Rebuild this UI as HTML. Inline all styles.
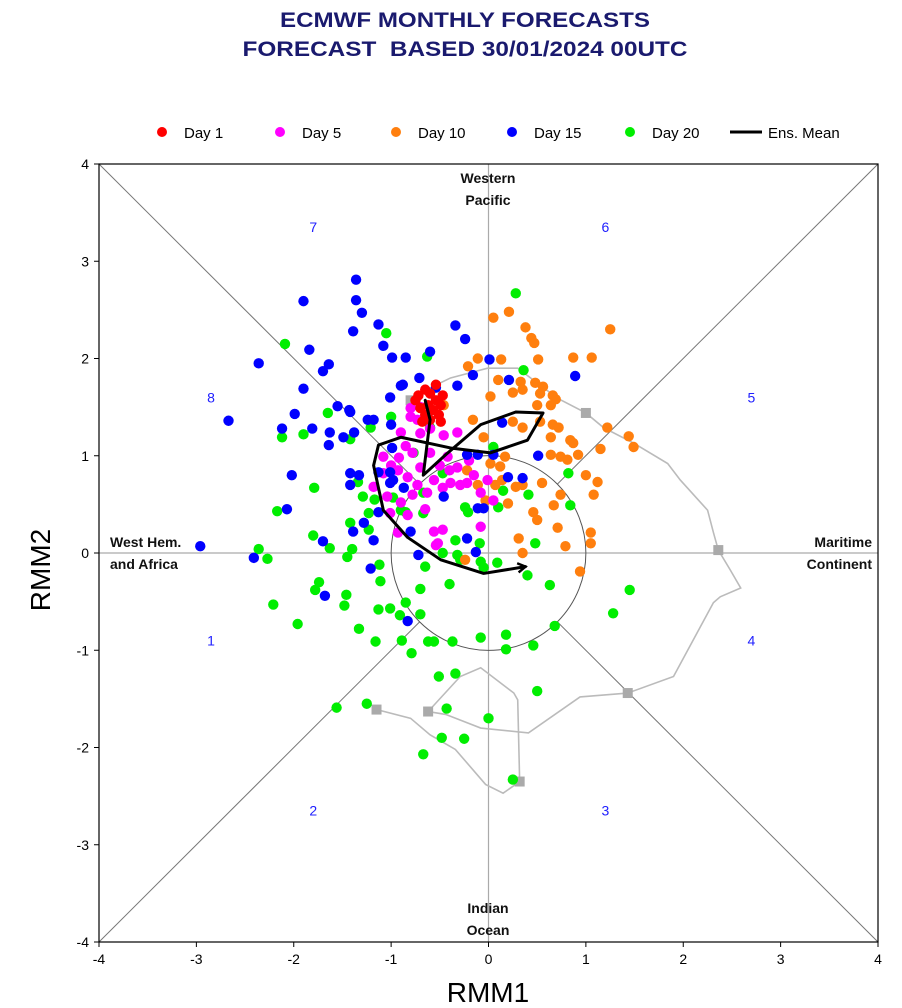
<!DOCTYPE html>
<html><head><meta charset="utf-8">
<style>
html,body{margin:0;padding:0;background:#fff;}
svg{display:block;font-family:"Liberation Sans",sans-serif;}
</style></head>
<body>
<svg id="chart" width="902" height="1008" viewBox="0 0 902 1008" xmlns="http://www.w3.org/2000/svg">
<text x="465" y="27" text-anchor="middle" font-size="21" font-weight="bold" fill="#1a1a6e" textLength="370" lengthAdjust="spacingAndGlyphs">ECMWF MONTHLY FORECASTS</text>
<text x="465" y="56" text-anchor="middle" font-size="21" font-weight="bold" fill="#1a1a6e" xml:space="preserve" textLength="445" lengthAdjust="spacingAndGlyphs">FORECAST  BASED 30/01/2024 00UTC</text>
<g id="legend"></g>
<g id="grid"></g>
<g id="obs"></g>
<g id="dots"></g>
<g id="mean"></g>
<g id="labels"></g>
<g id="axes"></g>
<text transform="translate(50,570) rotate(-90)" text-anchor="middle" font-size="28" fill="#000">RMM2</text>
<text x="488" y="1002" text-anchor="middle" font-size="28" fill="#000">RMM1</text>
</svg>
<script>
const ticks = [-4,-3,-2,-1,0,1,2,3,4];
const day1X = [-0.72,-0.65,-0.60,-0.54,-0.49,-0.62,-0.70,-0.57,-0.51,-0.65,-0.75,-0.47,-0.54,-0.60,-0.68,-0.49];
const day1Y = [1.62,1.68,1.64,1.57,1.52,1.52,1.49,1.47,1.42,1.42,1.57,1.62,1.73,1.37,1.35,1.35];
const day5X = [-0.80,-0.73,-0.90,-0.70,-0.60,-0.46,-0.32,-1.08,-0.92,-0.78,-0.60,-0.42,-0.32,-1.08,-0.93,-0.83,-0.70,-0.73,-0.56,-0.39,-0.29,-1.18,-1.04,-0.90,-0.78,-0.63,-0.47,-0.22,-0.08,-1.01,-0.83,-0.93,-0.56,-0.47,-0.52,-0.01,0.05,-0.08,-0.80,-0.70,-0.54,-1.00,-0.85,-0.50,-0.40,-0.15,-0.65,-0.20];
const day5Y = [1.49,1.37,1.24,1.23,1.28,1.21,1.24,0.99,0.98,1.03,1.03,0.99,0.88,0.82,0.85,0.78,0.88,0.70,0.75,0.72,0.70,0.68,0.58,0.52,0.60,0.62,0.67,0.72,0.62,0.41,0.39,0.21,0.22,0.24,0.10,0.75,0.54,0.27,1.40,1.50,0.08,0.90,1.10,0.90,0.85,0.80,0.45,0.95];
const day10X = [0.21,0.05,0.38,0.44,0.47,1.25,-0.11,0.13,0.51,0.87,1.06,-0.21,0.10,0.33,0.48,0.56,0.02,0.25,0.35,0.53,0.66,0.69,0.64,0.50,-0.46,-0.16,0.25,0.35,0.53,0.66,0.72,0.64,0.84,0.87,1.22,1.44,1.49,1.15,0.64,0.74,0.81,0.92,-0.05,0.17,0.02,0.12,-0.22,0.14,0.28,0.35,0.07,0.55,1.00,1.12,1.08,0.74,0.67,0.46,0.50,0.71,1.05,0.31,0.79,1.05,0.94,0.20,-0.11,-0.03,-0.24,0.35];
const day10Y = [2.48,2.42,2.32,2.21,2.16,2.30,2.00,1.99,1.99,2.01,2.01,1.92,1.78,1.76,1.75,1.71,1.61,1.65,1.68,1.64,1.62,1.58,1.52,1.52,1.52,1.37,1.35,1.29,1.35,1.32,1.29,1.19,1.16,1.13,1.29,1.20,1.09,1.07,1.01,0.99,0.96,1.01,1.19,0.99,0.92,0.89,0.85,0.75,0.68,0.70,0.70,0.72,0.80,0.73,0.60,0.60,0.49,0.42,0.34,0.26,0.21,0.15,0.07,0.10,-0.19,0.51,0.70,0.54,-0.07,0.00];
const day15X = [-1.36,-1.36,-1.30,-1.90,-1.13,-1.39,-1.08,-1.84,-0.99,-0.85,-2.36,-1.64,-1.70,-1.90,-0.71,-1.01,-0.90,-1.55,-1.43,-1.99,-2.67,-2.12,-1.81,-1.63,-1.49,-1.38,-1.24,-1.18,-1.64,-1.00,-0.34,-0.24,-0.60,0.01,-0.16,0.21,0.89,-0.32,-0.54,-0.88,-1.42,-0.99,0.14,-0.22,-0.11,0.05,0.51,-1.42,-1.42,-0.98,-0.87,-0.46,-0.11,-0.05,-1.13,-1.39,-1.18,-0.80,-0.22,-0.13,-1.21,-0.72,0.35,0.20,-2.02,-1.33,-1.13,-1.01,-1.01,-2.07,-1.28,-1.70,-2.96,-2.41,-1.68,-0.83];
const day15Y = [2.81,2.60,2.47,2.59,2.35,2.28,2.13,2.09,2.01,2.01,1.95,1.94,1.87,1.69,1.80,1.60,1.72,1.51,1.47,1.43,1.36,1.28,1.28,1.24,1.19,1.24,1.37,1.37,1.11,1.32,2.34,2.20,2.07,1.99,1.83,1.78,1.82,1.72,1.70,1.73,1.45,1.08,1.34,1.01,1.01,1.01,1.00,0.82,0.70,0.75,0.67,0.58,0.46,0.46,0.42,0.22,0.13,0.22,0.15,0.01,-0.16,-0.02,0.77,0.78,0.80,0.80,0.83,0.83,0.72,0.45,0.31,0.12,0.07,-0.05,-0.44,-0.70];
const day20X = [0.28,-1.05,-2.09,-0.63,-1.65,-1.00,-1.21,-2.12,-1.90,-1.42,-0.77,0.36,-1.79,-1.34,-1.29,-1.17,-0.98,-2.17,-1.23,-0.90,-0.67,-0.67,-1.42,-1.23,-1.80,-1.63,-2.36,-2.27,-1.40,-1.45,-1.12,-1.11,-0.65,-1.74,-1.78,-1.46,-1.48,-2.21,-1.13,-1.01,-0.91,-0.85,-0.70,-0.70,-1.96,-1.33,-1.16,-0.89,-0.79,-0.62,-0.60,0.05,-0.47,0.15,0.41,0.82,-0.24,-0.21,0.10,0.84,-0.85,-0.34,-0.09,0.48,-0.47,-0.32,-0.29,-0.08,0.09,-0.05,0.40,-0.40,0.63,1.45,1.28,0.68,-0.56,-0.37,-0.08,0.18,0.18,0.46,-0.51,-0.34,0.50,-1.25,-0.43,0.00,-0.48,-0.25,-0.67,0.25,-1.56];
const day20Y = [2.67,2.26,2.15,2.02,1.44,1.40,1.29,1.19,1.22,1.17,1.03,1.88,0.67,0.73,0.58,0.55,0.57,0.43,0.41,0.44,0.62,0.41,0.31,0.24,0.18,0.05,0.04,-0.06,0.04,-0.04,-0.12,-0.29,-0.14,-0.30,-0.38,-0.43,-0.54,-0.53,-0.58,-0.57,-0.64,-0.51,-0.63,-0.37,-0.73,-0.78,-0.91,-0.90,-1.03,-0.91,1.29,1.09,0.82,0.64,0.60,0.82,0.47,0.42,0.47,0.49,0.42,0.13,0.10,0.10,0.00,-0.02,-0.07,-0.09,-0.10,-0.15,-0.23,-0.32,-0.33,-0.38,-0.62,-0.75,-0.91,-0.91,-0.87,-0.84,-0.99,-0.95,-1.27,-1.24,-1.42,-1.55,-1.60,-1.70,-1.90,-1.91,-2.07,-2.33,-1.59];
const meanX = [-0.65,-0.60,-0.67,-0.44,-0.08,0.28,0.56,0.40,0.02,-0.39,-0.90,-1.13,-1.18,-1.08,-0.83,-0.49,-0.05,0.38];
const meanY = [1.57,1.37,0.80,1.01,1.32,1.45,1.44,1.16,1.03,1.08,1.19,1.11,0.90,0.44,0.16,-0.07,-0.21,-0.14];
const obsX = [-1.15,-0.80,-0.60,-0.34,-0.03,0.15,0.32,0.30,0.26,-0.08,-0.29,-0.62,-0.44,-0.08,0.41,0.94,1.43,1.90,2.31,2.38,2.59,2.48,2.36,2.31,2.25,1.97,1.84,1.49,1.18,1.00,0.71,0.30,-0.01,-0.39,-0.70,-0.80];
const obsY = [-1.61,-1.70,-1.87,-2.02,-2.38,-2.47,-2.35,-1.51,-1.44,-1.18,-1.27,-1.63,-1.66,-1.80,-1.85,-1.48,-1.44,-1.27,-0.51,-0.45,-0.36,-0.17,0.03,0.21,0.44,0.75,0.92,1.13,1.29,1.44,1.59,1.90,1.90,1.80,1.65,1.57];
const obsSquares = [0,6,11,16,22,29,35];

const NS = "http://www.w3.org/2000/svg";
const X0 = 99, X1 = 878, Y0 = 942, Y1 = 164;
function sx(v){ return X0 + (v + 4) * (X1 - X0) / 8; }
function sy(v){ return Y0 - (v + 4) * (Y0 - Y1) / 8; }
function mk(tag, attrs, parent){
  const e = document.createElementNS(NS, tag);
  for (const k in attrs) e.setAttribute(k, attrs[k]);
  parent.appendChild(e);
  return e;
}
const grid = document.getElementById('grid');
const cx = sx(0), cy = sy(0), r = sx(1) - sx(0);
let l = mk('line', {x1:sx(0), y1:Y1, x2:sx(0), y2:Y0, stroke:'#aaa', 'stroke-width':1.2}, grid);


l = mk('line', {x1:X0, y1:sy(0), x2:X1, y2:sy(0), stroke:'#aaa', 'stroke-width':1.2}, grid);


const d = r / Math.SQRT2;
[[X0,Y1,cx-d,cy-d],[X1,Y1,cx+d,cy-d],[X0,Y0,cx-d,cy+d],[X1,Y0,cx+d,cy+d]].forEach(function(p){
  const e = mk('line', {x1:p[0], y1:p[1], x2:p[2], y2:p[3], stroke:'#777', 'stroke-width':1}, grid);
  
  
});
const circ = mk('circle', {cx:cx, cy:cy, r:r, fill:'none', stroke:'#555', 'stroke-width':1}, grid);



const obs = document.getElementById('obs');
let pts = obsX.map(function(v,i){ return sx(v)+','+sy(obsY[i]); }).join(' ');
const op = mk('polyline', {points:pts, fill:'none', stroke:'#bbb', 'stroke-width':1.6}, obs);


obsSquares.forEach(function(i){
  const s = mk('rect', {x:sx(obsX[i])-5, y:sy(obsY[i])-5, width:10, height:10, fill:'#aaa'}, obs);
  
  
});

const dots = document.getElementById('dots');
const series = [
  ['day-20', day20X, day20Y, '#00ee00'],
  ['day-10', day10X, day10Y, '#ff7f0e'],
  ['day-5', day5X, day5Y, '#ff00ff'],
  ['day-15', day15X, day15Y, '#0000ff'],
  ['day-1', day1X, day1Y, '#ff0000']
];
series.forEach(function(s){
  const g = mk('g', {}, dots);
  
  
  s[1].forEach(function(v,i){
    const c = mk('circle', {cx:sx(v), cy:sy(s[2][i]), r:5.2, fill:s[3]}, g);
    
    
  });
});

const mean = document.getElementById('mean');
pts = meanX.map(function(v,i){ return sx(v)+','+sy(meanY[i]); }).join(' ');
const mp = mk('polyline', {points:pts, fill:'none', stroke:'#000', 'stroke-width':3, 'stroke-linejoin':'round', 'stroke-linecap':'round'}, mean);


{
  const n = meanX.length;
  const ex = sx(meanX[n-1]), ey = sy(meanY[n-1]);
  const px = sx(meanX[n-2]), py = sy(meanY[n-2]);
  const ang = Math.atan2(ey-py, ex-px);
  const a1 = ang + 2.6, a2 = ang - 2.6;
  const ah = mk('polyline', {points:(ex+9*Math.cos(a1))+','+(ey+9*Math.sin(a1))+' '+ex+','+ey+' '+(ex+9*Math.cos(a2))+','+(ey+9*Math.sin(a2)), fill:'none', stroke:'#000', 'stroke-width':2.5}, mean);
  
  
}

const axes = document.getElementById('axes');
const fr = mk('rect', {x:X0, y:Y1, width:X1-X0, height:Y0-Y1, fill:'none', stroke:'#000', 'stroke-width':1.2}, axes);


ticks.forEach(function(t){
  let e = mk('line', {x1:X0-5, y1:sy(t), x2:X0, y2:sy(t), stroke:'#000'}, axes);
  
  
  e = mk('line', {x1:sx(t), y1:Y0, x2:sx(t), y2:Y0+5, stroke:'#000'}, axes);
  
  
  e = mk('text', {x:X0-10, y:sy(t)+5, 'text-anchor':'end', 'font-size':14, fill:'#000'}, axes);
  e.textContent = String(t);
  
  
  e = mk('text', {x:sx(t), y:Y0+22, 'text-anchor':'middle', 'font-size':14, fill:'#000'}, axes);
  e.textContent = String(t);
  
  
});

const labels = document.getElementById('labels');
const phaseNum = ['1','2','3','4','5','6','7','8'];
const phaseXY = [[-2.85,-0.9],[-1.8,-2.65],[1.2,-2.65],[2.7,-0.9],[2.7,1.6],[1.2,3.35],[-1.8,3.35],[-2.85,1.6]];
phaseNum.forEach(function(p,i){
  const e = mk('text', {x:sx(phaseXY[i][0]), y:sy(phaseXY[i][1])+5, 'text-anchor':'middle', 'font-size':14, fill:'#2020ff'}, labels);
  e.textContent = p;
  
  
});
const regions = [
  ['western-pacific-label', 'Western', 'Pacific', 488, 183, 'middle'],
  ['indian-ocean-label', 'Indian', 'Ocean', 488, 913, 'middle'],
  ['west-hem-africa-label', 'West Hem.', 'and Africa', 110, 547, 'start'],
  ['maritime-continent-label', 'Maritime', 'Continent', 872, 547, 'end']
];
regions.forEach(function(rg){
  const e = mk('text', {x:rg[3], y:rg[4], 'text-anchor':rg[5], 'font-size':14, 'font-weight':'bold', fill:'#111'}, labels);
  
  
  const t1 = mk('tspan', {x:rg[3], dy:0}, e); t1.textContent = rg[1];
  const t2 = mk('tspan', {x:rg[3], dy:22}, e); t2.textContent = rg[2];
});

const legend = document.getElementById('legend');
const legNames = ['Day 1','Day 5','Day 10','Day 15','Day 20'];
const legColors = ['#ff0000','#ff00ff','#ff7f0e','#0000ff','#00ee00'];
const legX = [162,280,396,512,630];
legNames.forEach(function(n,i){
  const g = mk('g', {}, legend);
  
  
  mk('circle', {cx:legX[i], cy:132, r:5, fill:legColors[i]}, g);
  const t = mk('text', {x:legX[i]+22, y:138, 'font-size':15, fill:'#000'}, g);
  t.textContent = n;
});
{
  const g = mk('g', {}, legend);
  
  
  mk('line', {x1:730, y1:132, x2:762, y2:132, stroke:'#000', 'stroke-width':3}, g);
  const t = mk('text', {x:768, y:138, 'font-size':15, fill:'#000'}, g);
  t.textContent = 'Ens. Mean';
}
</script>
</body></html>
